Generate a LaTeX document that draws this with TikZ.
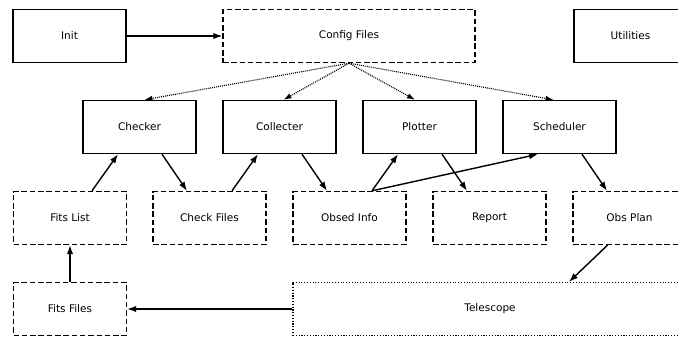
\documentclass[tikz,border=0pt]{standalone}
\usepackage{fontspec}
\setmainfont{DejaVu Sans}
\usetikzlibrary{arrows.meta}
\begin{document}
\begin{tikzpicture}[x=1pt,y=-1pt,
  box/.style={draw,line width=1.4pt,minimum width=113pt,minimum height=53pt,inner sep=0pt,font=\fontsize{10.5}{12}\selectfont},
  solidbox/.style={box},
  dashbox/.style={box,dash pattern=on 5.5pt off 2.8pt},
  dotbox/.style={box,line width=1.2pt,dash pattern=on 1.1pt off 1.7pt},
  arr/.style={line width=1.4pt,-{Latex[length=9pt,width=6.5pt]}},
  darr/.style={line width=1.1pt,dash pattern=on 1pt off 1pt,-{Latex[length=8pt,width=5.5pt]}}]
\useasboundingbox (0,0) rectangle (678,340);
\node[solidbox] (init) at (69.5,36) {Init};
\node[dashbox,minimum width=252pt] (config) at (349,36) {Config Files};
\node[solidbox] (util) at (630.5,36) {Utilities};
\node[solidbox] (checker) at (139.5,127) {Checker};
\node[solidbox] (collecter) at (279.5,127) {Collecter};
\node[solidbox] (plotter) at (419.5,127) {Plotter};
\node[solidbox] (scheduler) at (559.5,127) {Scheduler};
\node[dashbox] (fitslist) at (70,218) {Fits List};
\node[dashbox] (checkfiles) at (209.5,218) {Check Files};
\node[dashbox] (obsed) at (349.5,218) {Obsed Info};
\node[dashbox] (report) at (489.5,218) {Report};
\node[dashbox] (obsplan) at (629.5,218) {Obs Plan};
\node[dashbox] (fitsfiles) at (70,309) {Fits Files};
\node[dotbox,minimum width=394pt] (telescope) at (490,309) {Telescope};
\draw[arr] (init.east) -- (config.west);
\draw[darr] (config.south) -- ([xshift=5pt]checker.north);
\draw[darr] (config.south) -- ([xshift=4pt]collecter.north);
\draw[darr] (config.south) -- ([xshift=-4.5pt]plotter.north);
\draw[darr] (config.south) -- ([xshift=-6pt]scheduler.north);
\draw[arr] ([xshift=22pt]fitslist.north) -- ([xshift=-21.5pt]checker.south);
\draw[arr] ([xshift=22.5pt]checker.south) -- ([xshift=-22.5pt]checkfiles.north);
\draw[arr] ([xshift=22.5pt]checkfiles.north) -- ([xshift=-21.5pt]collecter.south);
\draw[arr] ([xshift=22.5pt]collecter.south) -- ([xshift=-22.5pt]obsed.north);
\draw[arr] ([xshift=22.5pt]obsed.north) -- ([xshift=-21.5pt]plotter.south);
\draw[arr] ([xshift=22.5pt]obsed.north) -- ([xshift=-21.5pt]scheduler.south);
\draw[arr] ([xshift=22.5pt]plotter.south) -- ([xshift=-22.5pt]report.north);
\draw[arr] ([xshift=22.5pt]scheduler.south) -- ([xshift=-22.5pt]obsplan.north);
\draw[arr] ([xshift=-22pt]obsplan.south) -- ([xshift=79pt]telescope.north);
\draw[arr] (telescope.west) -- (fitsfiles.east);
\draw[arr] (fitsfiles.north) -- (fitslist.south);
\end{tikzpicture}
\end{document}
